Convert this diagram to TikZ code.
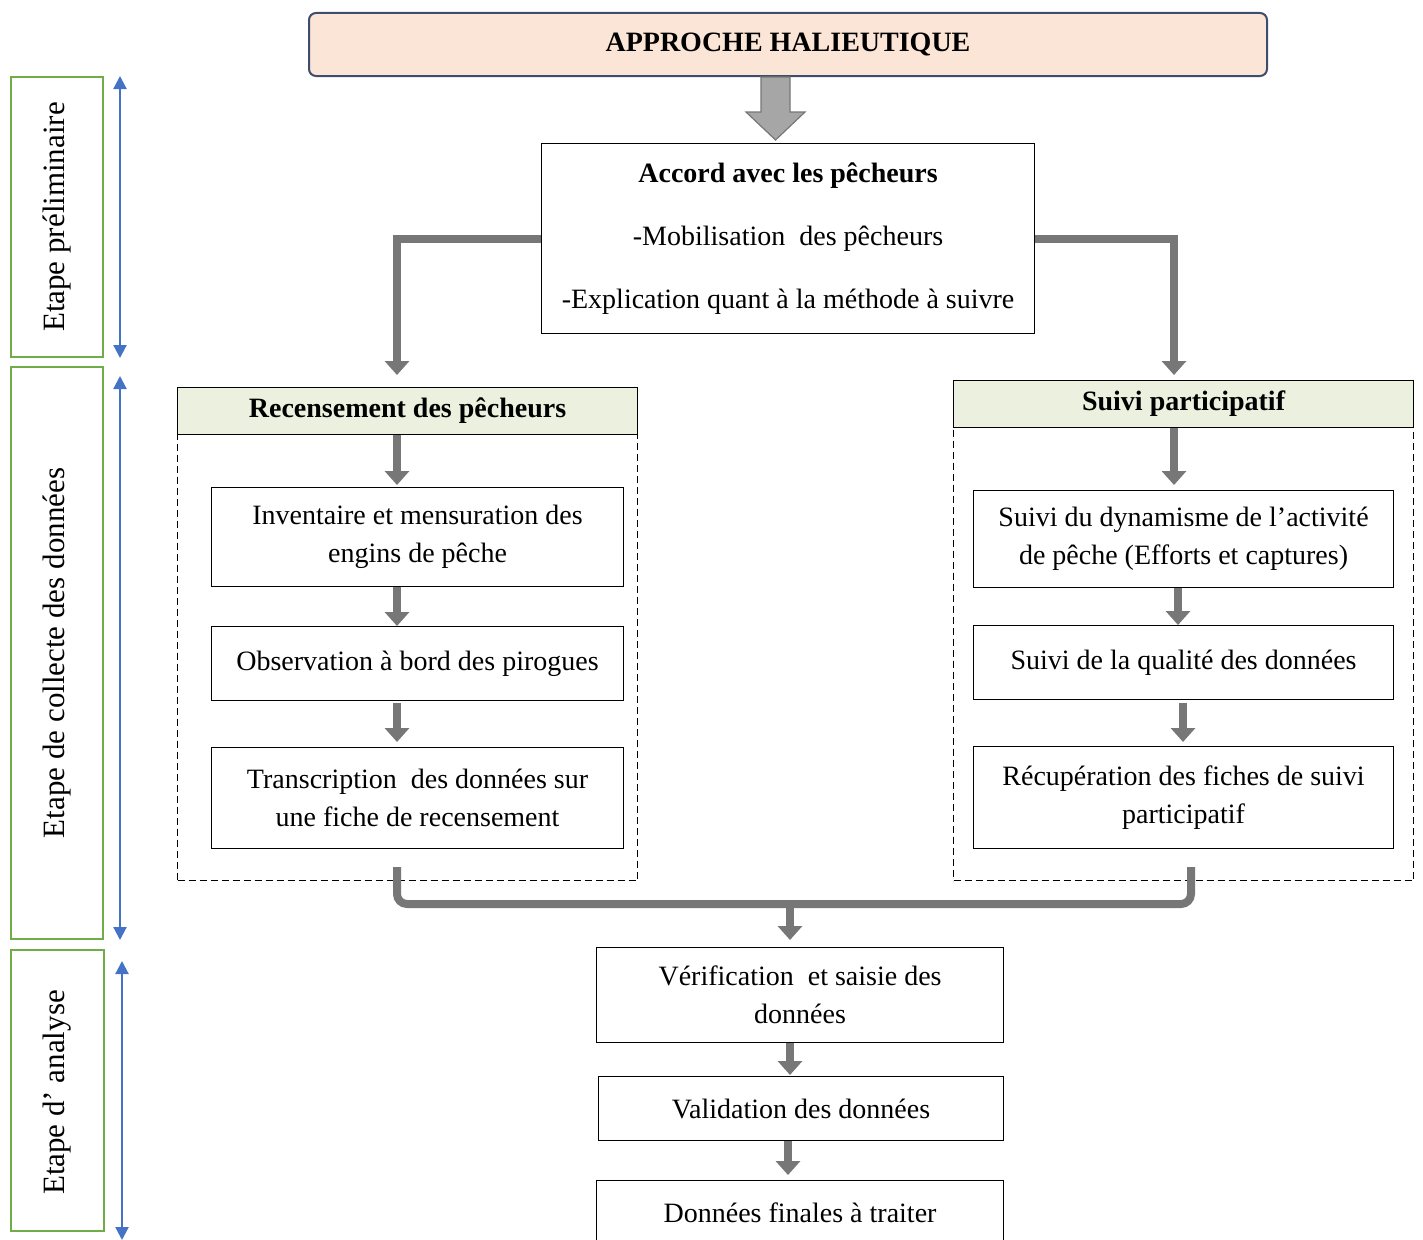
\documentclass[tikz,border=0pt]{standalone}
\usepackage{fontspec}
\setmainfont{Liberation Serif}
\usepackage{tikz}
\usetikzlibrary{arrows.meta,positioning,calc}

\definecolor{peach}{HTML}{FBE5D6}
\definecolor{slate}{HTML}{3E4C6D}
\definecolor{paleg}{HTML}{EBF1DE}
\definecolor{stageg}{HTML}{70AD47}
\definecolor{stageb}{HTML}{4472C4}
\definecolor{flowg}{HTML}{777777}
\definecolor{blockg}{HTML}{A6A6A6}

\begin{document}
\begin{tikzpicture}[
  x=1pt, y=-1pt,
  every node/.style={font=\fontsize{28}{38}\selectfont, inner sep=0pt},
  title/.style={draw=slate, line width=2pt, rounded corners=7pt, fill=peach,
                anchor=north west, font=\fontsize{28}{38}\selectfont\bfseries},
  stepbox/.style={draw, line width=1.1pt, align=center, anchor=north west},
  header/.style={draw, line width=1.1pt, fill=paleg, anchor=north west,
                 font=\fontsize{28}{38}\selectfont\bfseries},
  group/.style={draw, dash pattern=on 7pt off 4pt, line width=1pt, anchor=north west},
  stage/.style={draw=stageg, line width=2pt, anchor=north west},
  flow/.style={-{Triangle[width=24pt,length=14pt]}, line width=8pt, draw=flowg},
  span/.style={{Triangle[width=13pt,length=13pt]}-{Triangle[width=13pt,length=13pt]},
               line width=2.2pt, draw=stageb},
]
\useasboundingbox (0,0) rectangle (1423,1239);

% columns of the arrows
\coordinate (lcol) at (397,0);
\coordinate (rcol) at (1178,0);
\coordinate (ccol) at (790,0);

% top
\node[title, minimum width=958pt, minimum height=63pt] (approche) at (308,12)
  {APPROCHE HALIEUTIQUE};
\node[stepbox, minimum width=493pt, minimum height=190pt,
      font=\fontsize{28}{63}\selectfont] (accord) at (541,143)
  {\textbf{Accord avec les pêcheurs}\\-Mobilisation\ \ des pêcheurs\\-Explication quant à la méthode à suivre};

% collecte, left
\node[group, minimum width=460pt, minimum height=446pt] (lgroup) at (177,434) {};
\node[header, minimum width=460pt, minimum height=47pt] (recens) at (177,387)
  {Recensement des pêcheurs};
\node[stepbox, minimum width=412pt, minimum height=99pt] (inv) at (211,487)
  {Inventaire et mensuration des\\engins de pêche};
\node[stepbox, minimum width=412pt, minimum height=74pt] (obs) at (211,626)
  {Observation à bord des pirogues};
\node[stepbox, minimum width=412pt, minimum height=101pt] (trans) at (211,747)
  {Transcription\ \ des données sur\\une fiche de recensement};

% collecte, right
\node[group, minimum width=460pt, minimum height=453pt] (rgroup) at (953,427) {};
\node[header, minimum width=460pt, minimum height=47pt] (suivi) at (953,380)
  {Suivi participatif};
\node[stepbox, minimum width=420pt, minimum height=97pt] (dyn) at (973,490)
  {Suivi du dynamisme de l'activité\\de pêche (Efforts et captures)};
\node[stepbox, minimum width=420pt, minimum height=74pt] (qual) at (973,625)
  {Suivi de la qualité des données};
\node[stepbox, minimum width=420pt, minimum height=102pt] (recup) at (973,746)
  {Récupération des fiches de suivi\\participatif};

% analyse
\node[stepbox, minimum width=407pt, minimum height=95pt] (verif) at (596,947)
  {Vérification\ \ et saisie des\\données};
\node[stepbox, minimum width=405pt, minimum height=64pt] (valid) at (598,1076)
  {Validation des données};
\node[stepbox, minimum width=407pt, minimum height=64pt] (final) at (596,1180)
  {Données finales à traiter};

% stages
\node[stage, minimum width=92pt, minimum height=280pt] (prelim) at (10,76) {};
\node[rotate=90, font=\fontsize{31}{38}\selectfont] at (prelim.center) {Etape préliminaire};
\node[stage, minimum width=92pt, minimum height=572pt] (collecte) at (10,366) {};
\node[rotate=90, font=\fontsize{31}{38}\selectfont] at (collecte.center) {Etape de collecte des données};
\node[stage, minimum width=93pt, minimum height=281pt] (analyse) at (10,949) {};
\node[rotate=90, font=\fontsize{31}{38}\selectfont] at ([yshift=-2pt]analyse.center) {Etape d'\ analyse};

\draw[span] ([xshift=16pt]prelim.north east) -- ([xshift=16pt]prelim.south east);
\draw[span] ([xshift=16pt,yshift=-10pt]collecte.north east) -- ([xshift=16pt]collecte.south east);
\draw[span] ([xshift=17pt,yshift=-12pt]analyse.north east) -- ([xshift=17pt,yshift=-8pt]analyse.south east);

% block arrow below the title
\filldraw[fill=blockg, draw=flowg, line width=1.2pt]
  ($(approche.south)+(-27,0)$) -- ++(0,35) -- ++(-15,0) -- ($(accord.north)+(-12.5,-3)$)
  -- ($(approche.south)+(17,35)$) -- ++(-15,0) -- ($(approche.south)+(2,0)$) -- cycle;

% branches
\draw[flow] (accord.west) -| ($(recens.north -| lcol)+(0,-12)$);
\draw[flow] (accord.east) -| ($(suivi.north -| rcol)+(-4,-5)$);

\draw[flow] (recens.south -| lcol) -- ($(inv.north -| lcol)+(0,-2)$);
\draw[flow] (inv.south -| lcol) -- (obs.north -| lcol);
\draw[flow] ($(obs.south -| lcol)+(0,2)$) -- ($(trans.north -| lcol)+(0,-5)$);

\draw[flow] ($(suivi.south -| rcol)+(-4,0)$) -- ($(dyn.north -| rcol)+(-4,-5)$);
\draw[flow] (dyn.south -| rcol) -- (qual.north -| rcol);
\draw[flow] ($(qual.south -| rcol)+(5,3)$) -- ($(recup.north -| rcol)+(5,-4)$);

% merge
\coordinate (merge) at ($(lgroup.south -| ccol)+(0,23)$);
\draw[line width=8pt, draw=flowg, rounded corners=10pt]
  ($(trans.south -| lcol)+(0,18)$) |- ($(merge)+(401,0)$) -- ($(recup.south -| lcol)+(794,18)$);
\draw[flow] ($(merge)+(0,-4)$) -- ($(verif.north -| ccol)+(0,-7)$);

\draw[flow] (verif.south -| ccol) -- ($(valid.north -| ccol)+(0,-1)$);
\draw[flow] ($(valid.south -| ccol)+(-2,0)$) -- ($(final.north -| ccol)+(-2,-5)$);
\end{tikzpicture}
\end{document}
